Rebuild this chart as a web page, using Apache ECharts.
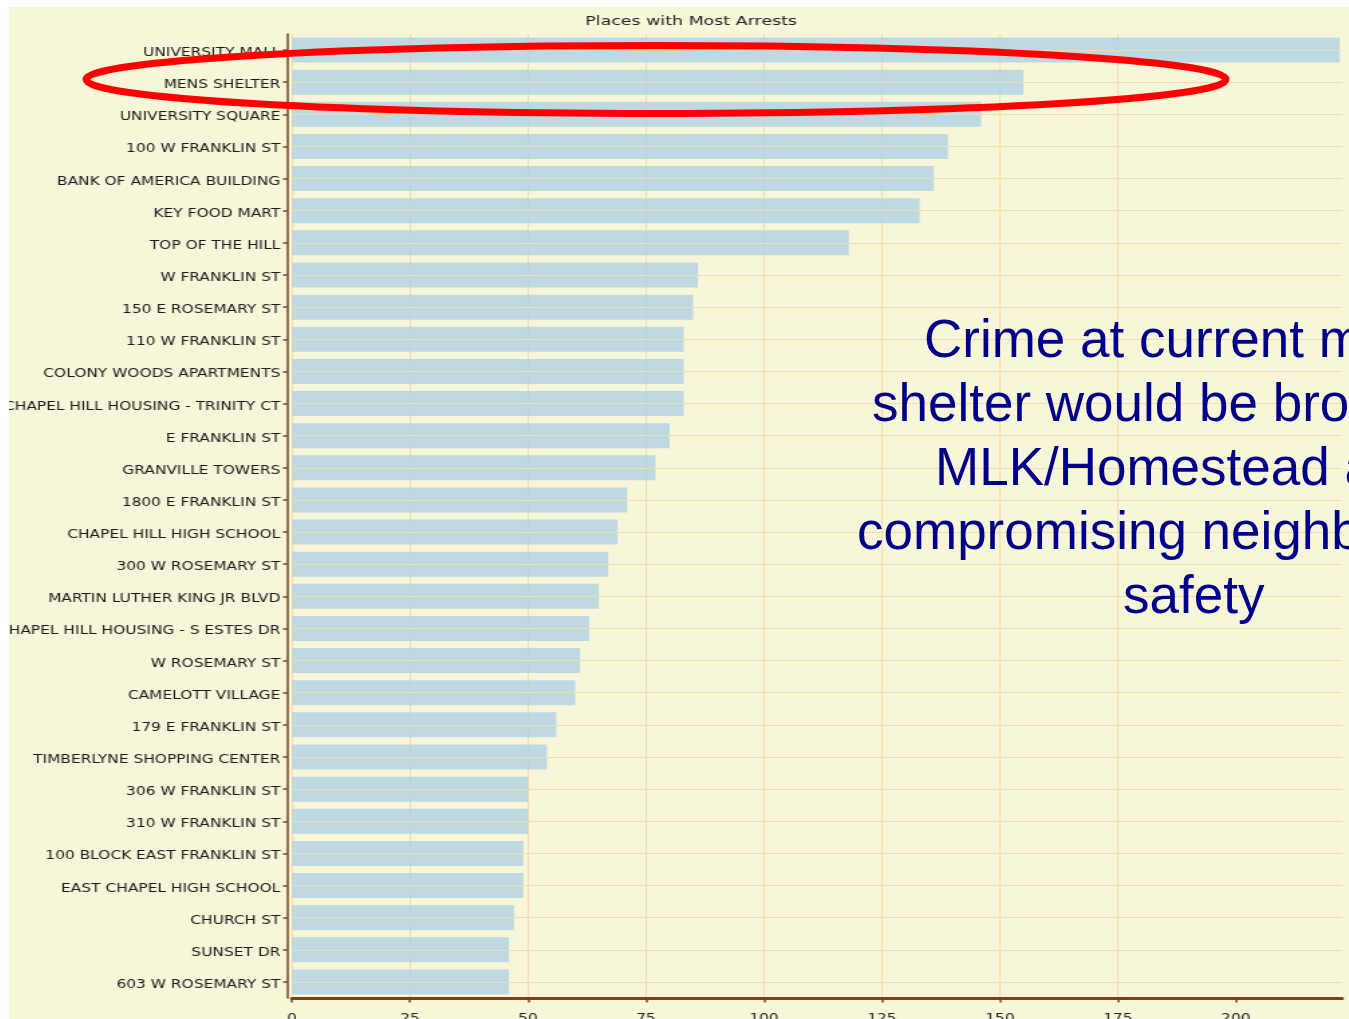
<!DOCTYPE html>
<html>
<head>
<meta charset="utf-8">
<script src="https://cdn.jsdelivr.net/npm/echarts@6/dist/echarts.min.js"></script>
<style>
  html, body { margin: 0; padding: 0; background: #ffffff; width: 1349px; height: 1019px; overflow: hidden; }
  #chart { position: absolute; left: 9px; top: 7px; width: 1000px; height: 1012px; transform: scaleX(1.34); transform-origin: 0 0; }
  #note { position: absolute; left: 0; top: 0; width: 1349px; height: 1019px; pointer-events: none; }
</style>
</head>
<body>
<div id="chart"></div>
<div id="note"></div>
<script>
const titleText = 'Places with Most Arrests';
const categories = [
  'UNIVERSITY MALL', 'MENS SHELTER', 'UNIVERSITY SQUARE', '100 W FRANKLIN ST',
  'BANK OF AMERICA BUILDING', 'KEY FOOD MART', 'TOP OF THE HILL', 'W FRANKLIN ST',
  '150 E ROSEMARY ST', '110 W FRANKLIN ST', 'COLONY WOODS APARTMENTS',
  'CHAPEL HILL HOUSING - TRINITY CT', 'E FRANKLIN ST', 'GRANVILLE TOWERS',
  '1800 E FRANKLIN ST', 'CHAPEL HILL HIGH SCHOOL', '300 W ROSEMARY ST',
  'MARTIN LUTHER KING JR BLVD', 'CHAPEL HILL HOUSING - S ESTES DR', 'W ROSEMARY ST',
  'CAMELOTT VILLAGE', '179 E FRANKLIN ST', 'TIMBERLYNE SHOPPING CENTER',
  '306 W FRANKLIN ST', '310 W FRANKLIN ST', '100 BLOCK EAST FRANKLIN ST',
  'EAST CHAPEL HIGH SCHOOL', 'CHURCH ST', 'SUNSET DR', '603 W ROSEMARY ST'
];
const arrests = [222, 155, 146, 139, 136, 133, 118, 86, 85, 83, 83, 83, 80, 77, 71, 69, 67, 65, 63, 61, 60, 56, 54, 50, 50, 49, 49, 47, 46, 46];
const xTicks = [0, 25, 50, 75, 100, 125, 150, 175, 200];
const xMax = 222.5;
const noteLines = [
  'Crime at current men\u2019s',
  'shelter would be brought to',
  'MLK/Homestead area',
  'compromising neighborhood',
  'safety'
];

const FONT = '"DejaVu Sans", Verdana, sans-serif';
const BROWN = '#7e4015';
const GRID = '#f2dcaa';

const chart = echarts.init(document.getElementById('chart'), null, { renderer: 'canvas' });
chart.setOption({
  backgroundColor: '#f8f6d9',
  animation: false,
  title: {
    text: titleText,
    left: 504,
    textAlign: 'center',
    top: 3,
    textStyle: { fontFamily: FONT, fontSize: 13, fontWeight: 'normal', color: '#222222' }
  },
  grid: { left: 211.2, right: 5.2, top: 27, bottom: 21, containLabel: false, outerBoundsMode: 'none' },
  xAxis: {
    type: 'value',
    min: 0,
    max: xMax,
    interval: 25,
    offset: 0.5,
    axisLine: { show: true, onZero: false, lineStyle: { color: BROWN, width: 3 } },
    axisTick: { show: true, length: 4, customValues: xTicks, lineStyle: { color: BROWN, width: 1.5 } },
    axisLabel: { customValues: xTicks, margin: 15, fontFamily: FONT, fontSize: 11.5, color: '#222222' },
    splitLine: { show: true, showMaxLine: false, lineStyle: { color: GRID, width: 1 } }
  },
  yAxis: {
    type: 'category',
    data: categories,
    inverse: true,
    offset: 3.7,
    axisLine: { show: true, onZero: false, lineStyle: { color: BROWN, width: 1.5 } },
    axisTick: { show: true, alignWithLabel: true, length: 3, lineStyle: { color: BROWN, width: 1.5 } },
    axisLabel: { margin: 5, verticalAlign: 'top', lineHeight: 6, fontFamily: FONT, fontSize: 11.5, color: '#1a1a1a' },
    splitLine: { show: false }
  },
  series: [
    {
      type: 'line',
      data: [],
      z: 1,
      silent: true,
      markLine: {
        silent: true,
        symbol: 'none',
        animation: false,
        label: { show: false },
        lineStyle: { color: GRID, width: 1, type: 'solid' },
        data: categories.map(c => ({ yAxis: c }))
      }
    },
    {
      type: 'bar',
      data: arrests,
      barWidth: 25,
      z: 2,
      itemStyle: { color: 'rgba(176,210,228,0.8)' },
      silent: true
    }
  ]
});

const note = echarts.init(document.getElementById('note'), null, { renderer: 'canvas' });
const noteX = [924, 872, 935, 857, 1123];
const noteY = [342, 406, 470, 534, 598];
note.setOption({
  animation: false,
  graphic: [
    {
      type: 'ellipse',
      shape: { cx: 656, cy: 79.5, rx: 570, ry: 34 },
      style: { fill: 'none', stroke: '#ff0000', lineWidth: 7 },
      silent: true
    }
  ].concat(noteLines.map((t, i) => ({
    type: 'text',
    x: noteX[i],
    y: noteY[i],
    silent: true,
    style: {
      text: t,
      font: '53px "Liberation Sans", Arial, sans-serif',
      fill: '#000088',
      align: 'left',
      verticalAlign: 'middle',
      textAlign: 'left',
      textVerticalAlign: 'middle'
    }
  })))
});
</script>
</body>
</html>
